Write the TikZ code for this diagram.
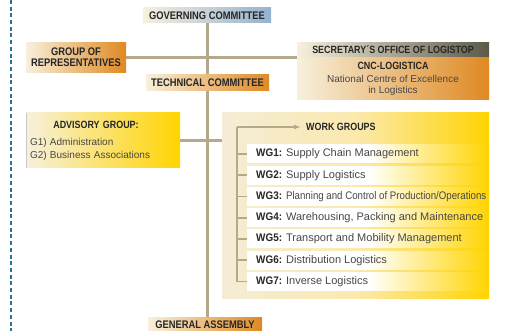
\documentclass[tikz,border=0pt]{standalone}
\usepackage{graphicx}
\usepackage{fontspec}
\setmainfont{Liberation Sans}
\newfontfamily\headfont[FakeStretch=0.85]{Liberation Sans}
\newfontfamily\wgfont[FakeStretch=0.9]{Liberation Sans}
\usetikzlibrary{arrows.meta,backgrounds}

\definecolor{cream}{HTML}{F7F0DC}
\definecolor{orangeC}{HTML}{DF8922}
\definecolor{blueC}{HTML}{95B2CF}
\definecolor{oliveC}{HTML}{5B5A48}
\definecolor{yellowC}{HTML}{FFD400}
\definecolor{paleyellow}{HTML}{FBE9AE}
\definecolor{panelcream}{HTML}{F4ECD6}
\definecolor{linkC}{HTML}{B3AA8C}
\definecolor{tealC}{HTML}{2B7489}
\definecolor{headtext}{HTML}{262626}
\definecolor{bodytext}{HTML}{474747}

\newcommand\wglab[1]{{\wgfont\bfseries\color{headtext}#1}}
\newcommand\wgline[1]{\makebox[242pt][l]{\hspace*{9pt}#1}}

\begin{document}
\begin{tikzpicture}[x=1pt,y=-1pt,
  box/.style={inner sep=0pt, text=headtext, align=center,
    font=\headfont\bfseries\fontsize{11}{11}\selectfont},
  orangebox/.style={box, left color=cream, right color=orangeC},
  link/.style={draw=linkC, line width=3pt},
  bracket/.style={draw=linkC, line width=1.7pt},
  wgrow/.style={anchor=west, minimum height=18pt, minimum width=242pt,
    inner sep=0pt,
    left color=white, right color=yellowC, middle color=white,
    text=bodytext, font=\fontsize{11}{12}\selectfont},
]
\useasboundingbox (0,0) rectangle (506,331);

% dashed margin rule
\coordinate (mtop) at (11,0);
\coordinate (mbot) at (11,331);
\draw[tealC, line width=1.3pt, dash pattern=on 4pt off 2.7pt] (mtop) -- (mbot);

% committees on the trunk
\node[box, left color=cream, right color=blueC, minimum width=128pt, minimum height=15pt]
  (gov) at (207,15.5) {GOVERNING COMMITTEE};
\node[orangebox, minimum width=123pt, minimum height=16pt]
  (tech) at (207.5,83) {TECHNICAL COMMITTEE};
\node[orangebox, minimum width=114pt, minimum height=16pt]
  (ga) at (205,325) {GENERAL ASSEMBLY};

% group of representatives
\node[orangebox, minimum width=100pt, minimum height=30pt]
  (rep) at (76,57.5) {GROUP OF\\REPRESENTATIVES};

% secretary's office
\node[box, left color=cream, right color=oliveC, minimum width=192pt, minimum height=14pt,
  font=\headfont\bfseries\fontsize{10.5}{11}\selectfont]
  (sectop) at (393,50) {SECRETARY´S OFFICE OF LOGISTOP};
\node[orangebox, anchor=north, minimum width=192pt, minimum height=42pt,
  font=\fontsize{10}{11}\selectfont, text=bodytext]
  (secbody) at (sectop.south) {{\headfont\bfseries\fontsize{10.5}{11}\selectfont\color{headtext}CNC-LOGISTICA}\\[2pt]
  National Centre of Excellence\\in Logistics};

% advisory group
\node[box, left color=cream, right color=yellowC, minimum width=154pt, minimum height=55pt,
  text width=146pt, inner xsep=4pt, align=left, text=bodytext,
  font=\fontsize{10}{13}\selectfont]
  (adv) at (103,140.5) {{\headfont\bfseries\fontsize{10.5}{11}\selectfont\color{headtext}\makebox[132pt]{ADVISORY GROUP:}}\\[4pt]
  G1) Administration\\G2) Business Associations};
\draw[black!22, line width=0.6pt] (adv.north west) -- (adv.south west);

% work groups panel
\node[inner sep=0pt, minimum width=267pt, minimum height=185pt,
  left color=panelcream, right color=yellowC, middle color=paleyellow]
  (panel) at (355.5,205.5) {};
\node[box, anchor=west, inner xsep=5pt, font=\headfont\bfseries\fontsize{10.5}{11}\selectfont]
  (wghead) at (301,127) {WORK GROUPS};

\node[wgrow] (wg1) at (247,154)    {\wgline{\wglab{WG1:} Supply Chain Management}};
\node[wgrow] (wg2) at (247,175.25) {\wgline{\wglab{WG2:} Supply Logistics}};
\node[wgrow] (wg3) at (247,196.5)  {\wgline{\wglab{WG3:} \scalebox{0.88}[1]{Planning and Control of Production/Operations}}};
\node[wgrow] (wg4) at (247,217.75) {\wgline{\wglab{WG4:} Warehousing, Packing and Maintenance}};
\node[wgrow] (wg5) at (247,239)    {\wgline{\wglab{WG5:} Transport and Mobility Management}};
\node[wgrow] (wg6) at (247,260.25) {\wgline{\wglab{WG6:} Distribution Logistics}};
\node[wgrow] (wg7) at (247,281.5)  {\wgline{\wglab{WG7:} Inverse Logistics}};

% bracket with arrow to the heading
\coordinate (brtop) at (237,127);
\draw[bracket, -{Latex[length=7pt,width=5pt]}] (brtop) -- (wghead.west);
\draw[bracket] (brtop) -- (brtop |- wg7.west);
\foreach \r in {wg1,wg2,wg3,wg4,wg5,wg6,wg7}
  \draw[bracket] (brtop |- \r.west) -- (\r.west);

% connectors behind the boxes
\begin{pgfonlayer}{background}
  \draw[link] (gov.south) -- (gov.south |- ga.north);
  \draw[link] (rep.east) -- (rep.east -| sectop.west);
  \draw[link] (adv.east) -- (adv.east -| panel.west);
\end{pgfonlayer}
\end{tikzpicture}
\end{document}
